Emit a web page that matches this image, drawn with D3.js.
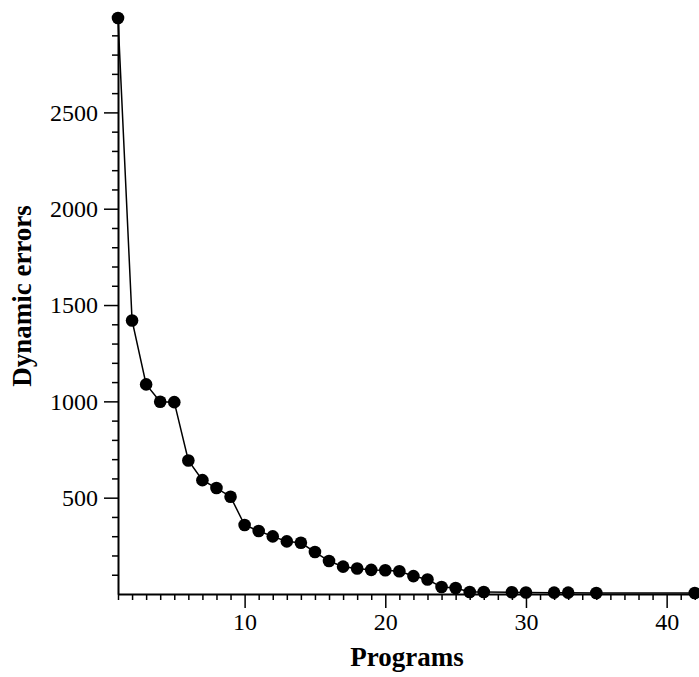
<!DOCTYPE html>
<html>
<head>
<meta charset="utf-8">
<script src="https://cdn.jsdelivr.net/npm/d3@7"></script>
<style>
    body { margin: 0; background: #fff; }
    svg { display: block; }
</style>
</head>
<body>
<svg id="chart" width="699" height="677"></svg>
<script>
// program index and the number of dynamic errors
const programs = [1, 2, 3, 4, 5, 6, 7, 8, 9, 10, 11, 12, 13, 14, 15, 16, 17, 18, 19, 20,
    21, 22, 23, 24, 25, 26, 27, 29, 30, 32, 33, 35, 42];
const errors = [2990, 1420, 1088, 998, 996, 693, 591, 550, 505, 358, 327, 299, 273, 266, 218, 171, 142, 132, 125, 123,
    118, 93, 75, 36, 31, 10, 10, 9, 8, 7, 7, 5, 5];
const xMajorTicks = [10, 20, 30, 40];
const yMajorTicks = [500, 1000, 1500, 2000, 2500];

const data = programs.map((p, i) => ({program: p, errors: errors[i]}));

const svg = d3.select('#chart');
const font = '"Liberation Serif", "Times New Roman", serif';

const x = d3.scaleLinear()
    .domain([1, 42.3])
    .range([118, 699]);

const y = d3.scaleLinear()
    .domain([0, d3.max(errors)])
    .range([594, 18]);

// minor ticks, one per program and one per 100 errors
const xMinor = d3.range(1, 43).filter(v => !xMajorTicks.includes(v));
const yMinor = d3.range(100, 3000, 100).filter(v => !yMajorTicks.includes(v));

svg.append('g')
    .attr('transform', 'translate(0,594)')
    .call(d3.axisBottom(x).tickValues(xMinor).tickSize(6).tickFormat(''))
    .call(g => g.selectAll('.tick line').attr('stroke-width', 1.5));

svg.append('g')
    .attr('transform', 'translate(0,594)')
    .call(d3.axisBottom(x).tickValues(xMajorTicks).tickSize(14).tickPadding(5)
        .tickSizeOuter(0).tickFormat(d3.format('d')))
    .call(g => g.select('.domain').attr('stroke-width', 2))
    .call(g => g.selectAll('.tick line').attr('stroke-width', 1.5))
    .call(g => g.selectAll('.tick text').attr('font-size', 24).attr('font-family', font).attr('fill', '#000'));

svg.append('g')
    .attr('transform', 'translate(118,0)')
    .call(d3.axisLeft(y).tickValues(yMinor).tickSize(6).tickFormat(''))
    .call(g => g.select('.domain').remove())
    .call(g => g.selectAll('.tick line').attr('stroke-width', 1.5));

svg.append('g')
    .attr('transform', 'translate(118,0)')
    .call(d3.axisLeft(y).tickValues(yMajorTicks).tickSize(14).tickPadding(6)
        .tickSizeOuter(0).tickFormat(d3.format('d')))
    .call(g => g.select('.domain').attr('stroke-width', 2))
    .call(g => g.selectAll('.tick line').attr('stroke-width', 1.5))
    .call(g => g.selectAll('.tick text').attr('font-size', 24).attr('font-family', font).attr('fill', '#000'));

// axis titles
svg.append('text')
    .attr('x', 407)
    .attr('y', 666)
    .attr('text-anchor', 'middle')
    .attr('font-family', font)
    .attr('font-weight', 'bold')
    .attr('font-size', 27)
    .text('Programs');

svg.append('text')
    .attr('transform', 'translate(31,296) rotate(-90)')
    .attr('text-anchor', 'middle')
    .attr('font-family', font)
    .attr('font-weight', 'bold')
    .attr('font-size', 27)
    .text('Dynamic errors');

const line = d3.line()
    .x(d => x(d.program))
    .y(d => y(d.errors));

svg.append('path')
    .datum(data)
    .attr('fill', 'none')
    .attr('stroke', '#000')
    .attr('stroke-width', 1.5)
    .attr('d', line);

svg.selectAll('.dot')
    .data(data)
    .enter().append('circle')
    .attr('class', 'dot')
    .attr('cx', d => x(d.program))
    .attr('cy', d => y(d.errors))
    .attr('r', 6.3)
    .attr('fill', '#000');
</script>
</body>
</html>
